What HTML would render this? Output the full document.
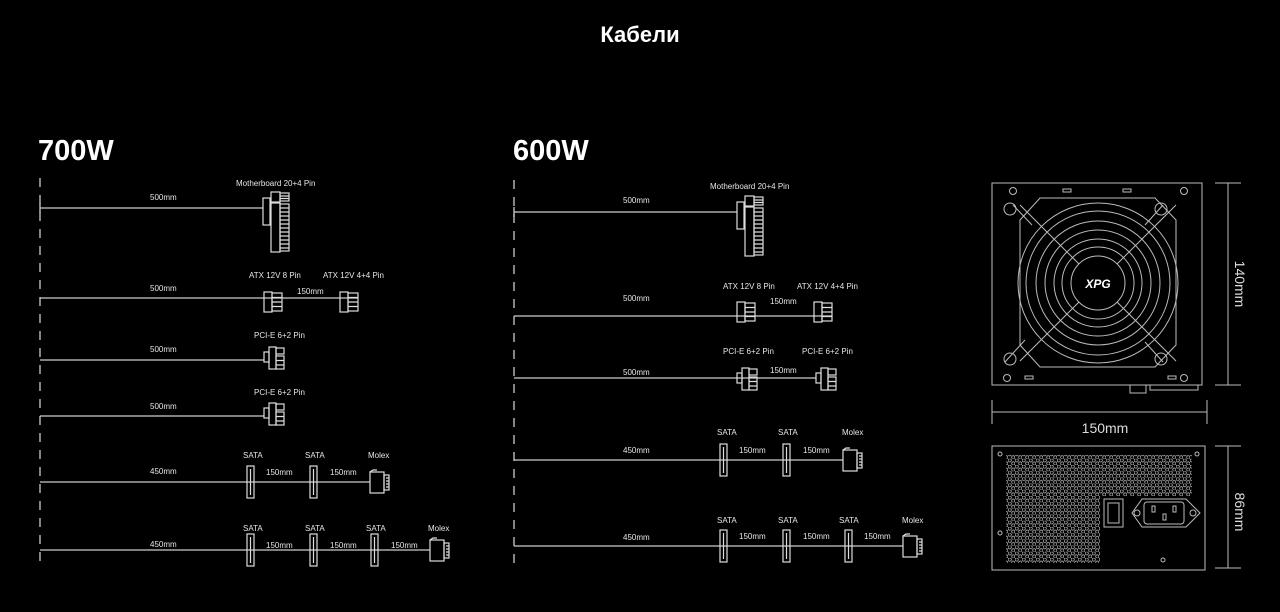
<!DOCTYPE html>
<html><head><meta charset="utf-8"><style>
html,body{margin:0;padding:0;background:#000;width:1280px;height:612px;overflow:hidden}
svg{display:block}
text{font-family:"Liberation Sans",sans-serif;fill:#e6e6e6}
.s{font-size:8px}
</style></head><body>
<svg width="1280" height="612" viewBox="0 0 1280 612" xmlns="http://www.w3.org/2000/svg">
<defs>
<pattern id="hex" width="7" height="6.2" patternUnits="userSpaceOnUse"><circle cx="1.75" cy="1.55" r="1.6" fill="none" stroke="#aaa" stroke-width="0.8"/><circle cx="5.25" cy="4.65" r="1.6" fill="none" stroke="#aaa" stroke-width="0.8"/></pattern>
<g id="mb" fill="none" stroke="#ddd" stroke-width="1.2">
<rect x="0" y="-10" width="7" height="27"/>
<rect x="8" y="-16" width="9" height="10"/><rect x="17" y="-15" width="9" height="8"/>
<rect x="8" y="-5" width="9" height="49"/><rect x="17" y="-4" width="9" height="47"/>
<path d="M17 -12h9M17 -9.5h9 M17 0h9M17 4h9M17 8h9M17 12h9M17 16h9M17 20h9M17 24h9M17 28h9M17 32h9M17 36h9M17 40h9"/>
</g>
<g id="atx" fill="none" stroke="#ddd" stroke-width="1.2">
<rect x="0" y="-10" width="8" height="20"/><rect x="8" y="-9" width="10" height="18"/>
<path d="M8 -4.5h10M8 0h10M8 4.5h10"/>
</g>
<g id="pcie" fill="none" stroke="#ddd" stroke-width="1.2">
<rect x="0" y="-5" width="5" height="10"/><rect x="5" y="-10" width="7" height="22"/>
<rect x="12" y="-9" width="8" height="6"/><rect x="12" y="-1" width="8" height="13"/>
<path d="M12 3.5h8M12 8h8"/>
</g>
<g id="sata" fill="none" stroke="#ddd" stroke-width="1.2">
<rect x="-3" y="-16" width="7" height="32"/><line x1="0.5" y1="-13" x2="0.5" y2="13"/>
</g>
<g id="molex" fill="none" stroke="#ddd" stroke-width="1.2">
<rect x="0" y="-9" width="14" height="21"/><rect x="14" y="-6" width="5" height="15"/>
<path d="M0 -9l3 -2h4"/><path d="M16 -3h3M16 0h3M16 3h3M16 6h3"/>
</g>
</defs>

<text x="640" y="42" text-anchor="middle" style="font-size:22px;font-weight:bold;fill:#fff">Кабели</text>
<text x="38" y="160" style="font-size:29px;font-weight:bold;fill:#fff">700W</text>
<text x="513" y="160" style="font-size:29px;font-weight:bold;fill:#fff">600W</text>

<g stroke="#ccc" stroke-width="1.3" fill="none">
<line x1="40" y1="178" x2="40" y2="566" stroke-dasharray="9,8"/>
<line x1="514" y1="180" x2="514" y2="566" stroke-dasharray="9,8"/>
<path d="M40 203v10M40 208H263"/>
<path d="M40 298H358"/>
<path d="M40 360H264"/>
<path d="M40 416H264"/>
<path d="M40 482H370"/>
<path d="M40 550H430"/>
<path d="M514 207v10M514 212H737"/>
<path d="M514 316H832"/>
<path d="M514 378H816"/>
<path d="M514 460H843"/>
<path d="M514 546H903"/>
</g>

<use href="#mb" x="263" y="208"/>
<use href="#atx" x="264" y="302"/><use href="#atx" x="340" y="302"/>
<use href="#pcie" x="264" y="357"/><use href="#pcie" x="264" y="413"/>
<use href="#sata" x="250" y="482"/><use href="#sata" x="313" y="482"/><use href="#molex" x="370" y="481"/>
<use href="#sata" x="250" y="550"/><use href="#sata" x="313" y="550"/><use href="#sata" x="374" y="550"/><use href="#molex" x="430" y="549"/>

<text class="s" x="150" y="200">500mm</text>
<text class="s" x="236" y="186">Motherboard 20+4 Pin</text>
<text class="s" x="150" y="291">500mm</text>
<text class="s" x="249" y="278">ATX 12V 8 Pin</text>
<text class="s" x="323" y="278">ATX 12V 4+4 Pin</text>
<text class="s" x="297" y="294">150mm</text>
<text class="s" x="150" y="352">500mm</text>
<text class="s" x="254" y="338">PCI-E 6+2 Pin</text>
<text class="s" x="150" y="409">500mm</text>
<text class="s" x="254" y="395">PCI-E 6+2 Pin</text>
<text class="s" x="150" y="474">450mm</text>
<text class="s" x="243" y="458">SATA</text><text class="s" x="305" y="458">SATA</text><text class="s" x="368" y="458">Molex</text>
<text class="s" x="266" y="475">150mm</text><text class="s" x="330" y="475">150mm</text>
<text class="s" x="150" y="547">450mm</text>
<text class="s" x="243" y="531">SATA</text><text class="s" x="305" y="531">SATA</text><text class="s" x="366" y="531">SATA</text><text class="s" x="428" y="531">Molex</text>
<text class="s" x="266" y="548">150mm</text><text class="s" x="330" y="548">150mm</text><text class="s" x="391" y="548">150mm</text>

<use href="#mb" x="737" y="212"/>
<use href="#atx" x="737" y="312"/><use href="#atx" x="814" y="312"/>
<use href="#pcie" x="737" y="378"/><use href="#pcie" x="816" y="378"/>
<use href="#sata" x="723" y="460"/><use href="#sata" x="786" y="460"/><use href="#molex" x="843" y="459"/>
<use href="#sata" x="723" y="546"/><use href="#sata" x="786" y="546"/><use href="#sata" x="848" y="546"/><use href="#molex" x="903" y="545"/>

<text class="s" x="623" y="203">500mm</text>
<text class="s" x="710" y="189">Motherboard 20+4 Pin</text>
<text class="s" x="623" y="301">500mm</text>
<text class="s" x="723" y="289">ATX 12V 8 Pin</text>
<text class="s" x="797" y="289">ATX 12V 4+4 Pin</text>
<text class="s" x="770" y="304">150mm</text>
<text class="s" x="623" y="375">500mm</text>
<text class="s" x="723" y="354">PCI-E 6+2 Pin</text>
<text class="s" x="802" y="354">PCI-E 6+2 Pin</text>
<text class="s" x="770" y="373">150mm</text>
<text class="s" x="623" y="453">450mm</text>
<text class="s" x="717" y="435">SATA</text><text class="s" x="778" y="435">SATA</text><text class="s" x="842" y="435">Molex</text>
<text class="s" x="739" y="453">150mm</text><text class="s" x="803" y="453">150mm</text>
<text class="s" x="623" y="540">450mm</text>
<text class="s" x="717" y="523">SATA</text><text class="s" x="778" y="523">SATA</text><text class="s" x="839" y="523">SATA</text><text class="s" x="902" y="523">Molex</text>
<text class="s" x="739" y="539">150mm</text><text class="s" x="803" y="539">150mm</text><text class="s" x="864" y="539">150mm</text>

<g fill="none" stroke="#bbb" stroke-width="1">
<rect x="992" y="183" width="210" height="202"/>
<path d="M1130 385v8h16v-8M1150 385v5h48v-5"/>
<circle cx="1013" cy="191" r="3.5"/><circle cx="1184" cy="191" r="3.5"/>
<circle cx="1007" cy="378" r="3.5"/><circle cx="1184" cy="378" r="3.5"/>
<circle cx="1010" cy="209" r="6"/><circle cx="1161" cy="209" r="6"/>
<circle cx="1010" cy="359" r="6"/><circle cx="1161" cy="359" r="6"/>
<rect x="1063" y="189" width="8" height="3"/><rect x="1123" y="189" width="8" height="3"/>
<rect x="1025" y="376" width="8" height="3"/><rect x="1168" y="376" width="8" height="3"/>
<path d="M1005 362 L1025 340 M1163 205 L1145 225 M1013 205 L1032 225 M1163 362 L1145 342" />
<path d="M1020 220 L1040 198 L1155 198 L1176 220 L1176 345 L1155 367 L1040 367 L1020 345 Z"/>
<circle cx="1098" cy="283" r="80"/><circle cx="1098" cy="283" r="72"/>
<circle cx="1098" cy="283" r="62"/><circle cx="1098" cy="283" r="53"/>
<circle cx="1098" cy="283" r="44"/><circle cx="1098" cy="283" r="36"/>
<circle cx="1098" cy="283" r="27"/>
<path d="M1020 205 L1079 264 M1176 205 L1117 264 M1020 361 L1079 302 M1176 361 L1117 302"/>
<path d="M1215 183h26M1228 183v202M1215 385h26"/>
<path d="M992 400v24M992 412h215M1207 400v24"/>
<path d="M1215 446h26M1228 446v122M1215 568h26"/>
</g>
<text x="1098" y="288" text-anchor="middle" style="font-size:12px;font-weight:bold;font-style:italic;fill:#fff">XPG</text>
<text x="1105" y="433" text-anchor="middle" style="font-size:14px;fill:#ddd">150mm</text>
<text transform="translate(1235,284) rotate(90)" text-anchor="middle" style="font-size:14px;fill:#ddd">140mm</text>
<text transform="translate(1235,512) rotate(90)" text-anchor="middle" style="font-size:14px;fill:#ddd">86mm</text>

<g fill="none" stroke="#bbb" stroke-width="1">
<rect x="992" y="446" width="213" height="124"/>
<circle cx="1000" cy="454" r="2"/><circle cx="1197" cy="454" r="2"/>
<circle cx="1000" cy="533" r="2"/><circle cx="1163" cy="560" r="2"/>
</g>
<path d="M1006 455H1192V496H1100V563H1006Z" fill="url(#hex)"/>
<g fill="none" stroke="#bbb" stroke-width="1">
<rect x="1104" y="499" width="19" height="28"/><rect x="1108" y="503" width="11" height="20"/>
<path d="M1132 513 L1142 499 H1186 L1200 513 L1186 527 H1142 Z"/>
<rect x="1144" y="502" width="40" height="22" rx="3"/>
<circle cx="1137" cy="513" r="3"/><circle cx="1193" cy="513" r="3"/>
<rect x="1152" y="506" width="3" height="6"/><rect x="1173" y="506" width="3" height="6"/><rect x="1163" y="514" width="3" height="6"/>
</g>
</svg>
</body></html>
